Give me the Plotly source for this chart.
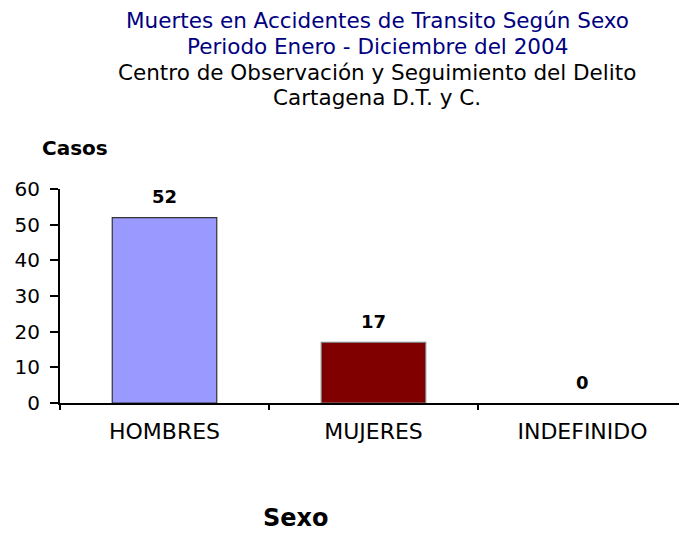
import plotly.graph_objects as go

categories = ["HOMBRES", "MUJERES", "INDEFINIDO"]
casos = [52, 17, 0]
bar_colors = ["#9999FF", "#800000", "#FFFFFF"]
line_colors = ["#333333", "#808080", "#FFFFFF"]
y_ticks = [0, 10, 20, 30, 40, 50, 60]

# page offset caused by the default 8px body margin of the html page
OFF = 8
PL, PT, PB, PR = 60, 189, 403, 687  # plot area in page pixels
PW, PH = PR - PL, PB - PT


def px(x):
    return (x - PL) / PW


def py(y):
    return (PB - y) / PH


FONT = "DejaVu Sans, Liberation Sans, Arial"

fig = go.Figure()
fig.add_trace(go.Bar(
    x=categories, y=casos,
    marker=dict(color=bar_colors, line=dict(color=line_colors, width=1.2)),
    width=0.5, hoverinfo="x+y",
))

for c, v in zip(categories, casos):
    fig.add_annotation(x=c, y=v, text=f"<b>{v}</b>", showarrow=False,
                       yshift=21, font=dict(family=FONT, size=18, color="black"))

title_lines = [
    ("Muertes en Accidentes de Transito Según Sexo", "#000080", 21),
    ("Periodo Enero - Diciembre del 2004", "#000080", 46.5),
    ("Centro de Observación y Seguimiento del Delito", "black", 72),
    ("Cartagena D.T. y C.", "black", 97.5),
]
for t, col, yp in title_lines:
    fig.add_annotation(xref="paper", yref="paper", x=px(377), y=py(yp),
                       text=t, showarrow=False, xanchor="center", yanchor="middle",
                       borderpad=0,
                       font=dict(family=FONT, size=21.5, color=col))

fig.add_annotation(xref="paper", yref="paper", x=px(75), y=py(148),
                   text="<b>Casos</b>", showarrow=False, xanchor="center", yanchor="middle",
                   font=dict(family=FONT, size=20, color="black"))
fig.add_annotation(xref="paper", yref="paper", x=px(296), y=py(518),
                   text="<b>Sexo</b>", showarrow=False, xanchor="center", yanchor="middle",
                   font=dict(family=FONT, size=24, color="black"))

fig.update_layout(
    width=PR - OFF, height=534 - OFF,
    margin=dict(l=PL - OFF, r=0, t=PT - OFF, b=534 - PB),
    paper_bgcolor="white", plot_bgcolor="white",
    showlegend=False,
    font=dict(family=FONT, size=18, color="black"),
    xaxis=dict(showline=True, linecolor="black", linewidth=2, ticks="outside",
               tickson="boundaries", ticklen=5, tickwidth=2, tickcolor="black",
               showgrid=False, tickfont=dict(size=22), range=[-0.5, 2.5],
               ticklabelstandoff=8, automargin=False),
    yaxis=dict(showline=True, linecolor="black", linewidth=2, ticks="outside",
               ticklen=8, tickwidth=2, tickcolor="black", range=[0, 60],
               tickvals=y_ticks, showgrid=False, zeroline=False,
               ticklabelstandoff=6, tickfont=dict(size=20), automargin=False),
)

fig.write_html("out.html")
